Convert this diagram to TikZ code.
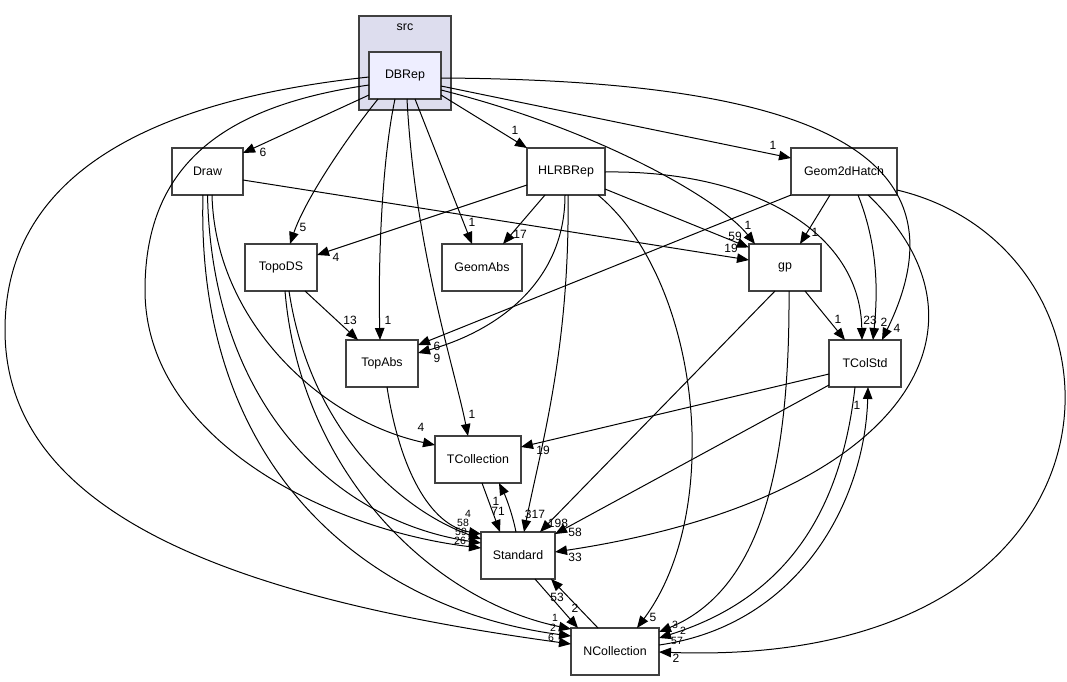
\documentclass[tikz,border=0pt]{standalone}
\usepackage{fontspec}
\setmainfont{Liberation Sans}
\usetikzlibrary{arrows.meta,calc}
\definecolor{clusterfill}{RGB}{221,221,238}
\definecolor{mainfill}{RGB}{238,238,255}
\definecolor{bordergray}{RGB}{64,64,64}
\begin{document}
\begin{tikzpicture}[x=1pt,y=-1pt,
  mod/.style={draw=bordergray, line width=1.5pt, fill=white, minimum height=47pt, inner sep=0pt, font=\fontsize{12.4}{14}\selectfont},
  dep/.style={-{Triangle[length=12pt,width=9.5pt]}, line width=1pt},
  lbl/.style={inner sep=0pt, font=\fontsize{12}{13}\selectfont},
  slbl/.style={inner sep=0pt, font=\fontsize{10.5}{11}\selectfont}]
\useasboundingbox (0,0) rectangle (1067,681);
% cluster
\node[draw=bordergray, line width=1.5pt, fill=clusterfill, minimum width=92pt, minimum height=94pt, inner sep=0pt] (src) at (405,63) {};
\node[lbl, font=\fontsize{12.4}{14}\selectfont] (srclabel) at (405,27) {src};
% modules
\node[mod, fill=mainfill, minimum width=72pt] (DBRep) at (405,75.5) {DBRep};
\node[mod, minimum width=71pt] (Draw) at (207.5,171.5) {Draw};
\node[mod, minimum width=78pt] (HLRBRep) at (566,171.5) {HLRBRep};
\node[mod, minimum width=106pt] (Geom2dHatch) at (844,171.5) {Geom2dHatch};
\node[mod, minimum width=72pt] (TopoDS) at (281,267.5) {TopoDS};
\node[mod, minimum width=80pt] (GeomAbs) at (482,267.5) {GeomAbs};
\node[mod, minimum width=72pt] (gp) at (785,267.5) {gp};
\node[mod, minimum width=72pt] (TopAbs) at (382,363.5) {TopAbs};
\node[mod, minimum width=72pt] (TColStd) at (865,363.5) {TColStd};
\node[mod, minimum width=86pt] (TCollection) at (478,459.5) {TCollection};
\node[mod, minimum width=74pt] (Standard) at (518,555.5) {Standard};
\node[mod, minimum width=88pt] (NCollection) at (615,651.5) {NCollection};
% DBRep edges
\draw[dep] ($(DBRep)+(-36,19.5)$) -- ($(Draw)+(35.5,-18.5)$);
\draw[dep] ($(DBRep)+(36,19.5)$) -- ($(HLRBRep)+(-39,-23.5)$);
\draw[dep] ($(DBRep)+(36,10.5)$) -- ($(Geom2dHatch)+(-53,-13.5)$);
\draw[dep] ($(DBRep)+(-27,23.5)$) .. controls (345,140) and (305,200) .. ($(TopoDS)+(9,-23.5)$);
\draw[dep] ($(DBRep)+(10,23.5)$) -- ($(GeomAbs)+(-10,-23.5)$);
\draw[dep] ($(DBRep)+(-10,23.5)$) .. controls (382,160) and (378,260) .. ($(TopAbs)+(-2,-23.5)$);
\draw[dep] ($(DBRep)+(2,23.5)$) .. controls (415,250) and (455,370) .. ($(TCollection)+(-10,-23.5)$);
\draw[dep] ($(DBRep)+(36,14.5)$) .. controls (600,130) and (720,200) .. ($(gp)+(-30,-23.5)$);
\draw[dep] ($(DBRep)+(36,2.5)$) .. controls (780,80) and (980,140) .. ($(TColStd)+(17,-23.5)$);
\draw[dep] ($(DBRep)+(-36,9.5)$) .. controls (230,105) and (145,160) .. (145,290) .. controls (145,440) and (330,530) .. ($(Standard)+(-37,-7.5)$);
\draw[dep] ($(DBRep)+(-36,1.5)$) .. controls (200,95) and (5,150) .. (5,330) .. controls (5,520) and (250,600) .. ($(NCollection)+(-44,-7.5)$);
% Draw edges
\draw[dep] ($(Draw)+(35.5,8.5)$) -- ($(gp)+(-36,-7.5)$);
\draw[dep] ($(Draw)+(4.5,23.5)$) .. controls (215,320) and (320,420) .. ($(TCollection)+(-43,-14.5)$);
\draw[dep] ($(Draw)+(0,23.5)$) .. controls (212,400) and (330,520) .. ($(Standard)+(-37,-12.5)$);
\draw[dep] ($(Draw)+(-4.5,23.5)$) .. controls (195,470) and (370,610) .. ($(NCollection)+(-44,-15.5)$);
% HLRBRep edges
\draw[dep] ($(HLRBRep)+(-39,13.5)$) -- ($(TopoDS)+(36,-12.5)$);
\draw[dep] ($(HLRBRep)+(-21,23.5)$) -- ($(GeomAbs)+(21,-23.5)$);
\draw[dep] ($(HLRBRep)+(-1,23.5)$) .. controls (565,280) and (500,330) .. ($(TopAbs)+(36,-10.5)$);
\draw[dep] ($(HLRBRep)+(2,23.5)$) .. controls (570,350) and (540,450) .. ($(Standard)+(6,-23.5)$);
\draw[dep] ($(HLRBRep)+(39,17.5)$) -- ($(gp)+(-36,-20)$);
\draw[dep] ($(HLRBRep)+(39,0.5)$) .. controls (750,170) and (860,230) .. ($(TColStd)+(-3,-23.5)$);
\draw[dep] ($(HLRBRep)+(32,23.5)$) .. controls (700,280) and (725,510) .. ($(NCollection)+(22,-23.5)$);
% Geom2dHatch edges
\draw[dep] ($(Geom2dHatch)+(-14,23.5)$) -- ($(gp)+(15,-23.5)$);
\draw[dep] ($(Geom2dHatch)+(-53,23.5)$) -- ($(TopAbs)+(36,-18.5)$);
\draw[dep] ($(Geom2dHatch)+(14,23.5)$) .. controls (880,250) and (877,300) .. ($(TColStd)+(8,-23.5)$);
\draw[dep] ($(Geom2dHatch)+(24,23.5)$) .. controls (1010,330) and (900,500) .. ($(Standard)+(37,-3.5)$);
\draw[dep] ($(Geom2dHatch)+(53,18.5)$) .. controls (1150,250) and (1150,670) .. ($(NCollection)+(44,0.5)$);
% gp edges
\draw[dep] ($(gp)+(20,23.5)$) -- ($(TColStd)+(-20,-23.5)$);
\draw[dep] ($(gp)+(-10,23.5)$) -- ($(Standard)+(22,-23.5)$);
\draw[dep] ($(gp)+(4,23.5)$) .. controls (790,470) and (760,590) .. ($(NCollection)+(44,-19.5)$);
% TopoDS edges
\draw[dep] ($(TopoDS)+(24,23.5)$) -- ($(TopAbs)+(-24,-23.5)$);
\draw[dep] ($(TopoDS)+(8,23.5)$) .. controls (310,430) and (400,510) .. ($(Standard)+(-37,-16.5)$);
\draw[dep] ($(TopoDS)+(4,23.5)$) .. controls (300,470) and (430,600) .. ($(NCollection)+(-44,-22.5)$);
% TopAbs
\draw[dep] ($(TopAbs)+(5,23.5)$) .. controls (400,470) and (430,525) .. ($(Standard)+(-37,-21.5)$);
% TColStd
\draw[dep] ($(TColStd)+(-36,10.5)$) -- ($(TCollection)+(43,-12.5)$);
\draw[dep] ($(TColStd)+(-36,21.5)$) -- ($(Standard)+(37,-21.5)$);
\draw[dep] ($(TColStd)+(-10,23.5)$) .. controls (840,520) and (780,600) .. ($(NCollection)+(44,-13.5)$);
\draw[dep] ($(NCollection)+(44,-6.5)$) .. controls (800,625) and (865,500) .. ($(TColStd)+(3,23.5)$);
% TCollection / Standard / NCollection
\draw[dep] ($(TCollection)+(4,23.5)$) -- ($(Standard)+(-18,-23.5)$);
\draw[dep] ($(Standard)+(-2,-23.5)$) .. controls (512,512) and (505,495) .. ($(TCollection)+(21,23.5)$);
\draw[dep] ($(Standard)+(17,23.5)$) -- ($(NCollection)+(-37,-23.5)$);
\draw[dep] ($(NCollection)+(-17,-23.5)$) -- ($(Standard)+(33,23.5)$);
% labels
\node[lbl] (l1) at (263,152) {6};
\node[lbl] (l2) at (515,130) {1};
\node[lbl] (l3) at (773,145) {1};
\node[lbl] (l4) at (303,227) {5};
\node[lbl] (l5) at (472,222) {1};
\node[lbl] (l6) at (388,320) {1};
\node[lbl] (l7) at (472,414) {1};
\node[lbl] (l8) at (748,225) {1};
\node[lbl] (l9) at (897,328) {4};
\node[slbl] (l10) at (460,541) {26};
\node[slbl] (l11) at (551,638) {6};
\node[lbl] (l12) at (731,248) {19};
\node[lbl] (l13) at (421,427) {4};
\node[slbl] (l14) at (461,532) {59};
\node[slbl] (l15) at (553,628) {2};
\node[lbl] (l16) at (336,257) {4};
\node[lbl] (l17) at (520,234) {17};
\node[lbl] (l18) at (437,358) {9};
\node[lbl] (l19) at (535,514) {317};
\node[lbl] (l20) at (735,236) {59};
\node[lbl] (l21) at (870,320) {23};
\node[lbl] (l22) at (653,617) {5};
\node[lbl] (l23) at (815,232) {1};
\node[lbl] (l24) at (437,346) {6};
\node[lbl] (l25) at (884,322) {2};
\node[lbl] (l26) at (575,557) {33};
\node[lbl] (l27) at (676,658) {2};
\node[lbl] (l28) at (838,319) {1};
\node[lbl] (l29) at (558,523) {198};
\node[slbl] (l30) at (675,625) {3};
\node[lbl] (l31) at (350,320) {13};
\node[slbl] (l32) at (463,523) {58};
\node[slbl] (l33) at (555,618) {1};
\node[slbl] (l34) at (468,514) {4};
\node[lbl] (l35) at (543,450) {19};
\node[lbl] (l36) at (575,532) {58};
\node[slbl] (l37) at (683,631) {2};
\node[slbl] (l38) at (677,641) {57};
\node[lbl] (l39) at (857,405) {1};
\node[lbl] (l40) at (498,511) {71};
\node[lbl] (l41) at (496,501) {1};
\node[lbl] (l42) at (557,597) {53};
\node[lbl] (l43) at (575,608) {2};
\end{tikzpicture}
\end{document}
